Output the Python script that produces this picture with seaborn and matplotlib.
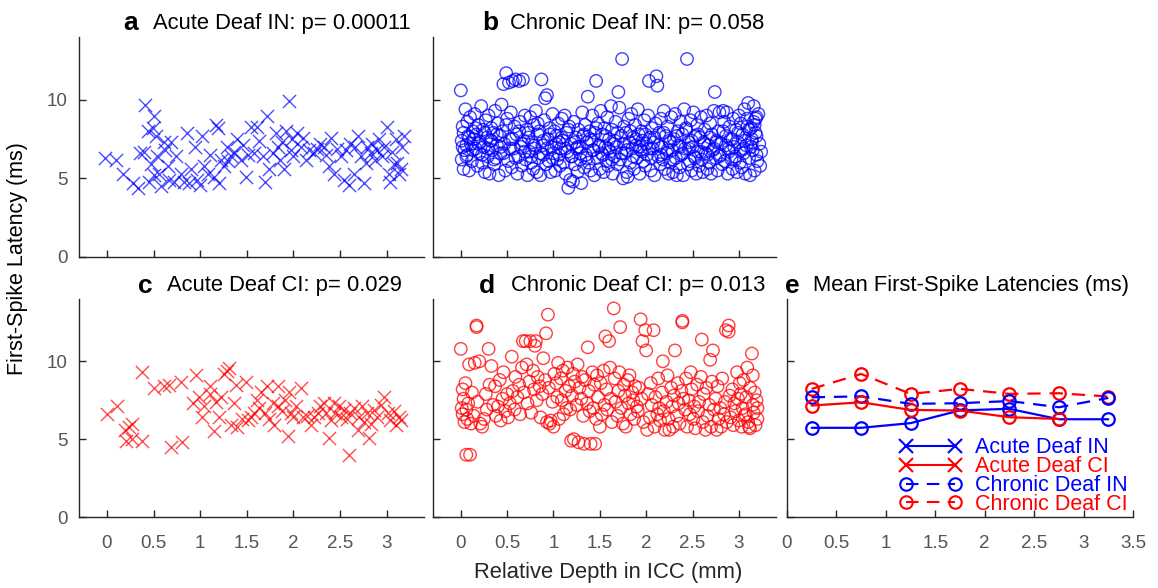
import numpy as np
import seaborn as sns
import matplotlib.pyplot as plt
from matplotlib.lines import Line2D

sns.set_style("ticks")
plt.rcParams['font.family'] = ['Liberation Sans', 'DejaVu Sans']
plt.rcParams['xtick.direction'] = 'in'
plt.rcParams['ytick.direction'] = 'in'
plt.rcParams['xtick.major.pad'] = 13
plt.rcParams['ytick.major.pad'] = 8

# ---- panel a: acute deaf IN (blue x) ----
a_depth = [-0.02, 0.10, 0.17, 0.28, 0.33, 0.35, 0.40, 0.41, 0.44, 0.45,
           0.47, 0.49, 0.51, 0.53, 0.54, 0.56, 0.58, 0.61, 0.65, 0.67,
           0.69, 0.72, 0.74, 0.79, 0.83, 0.86, 0.88, 0.94, 0.97, 1.00,
           1.02, 1.04, 1.08, 1.11, 1.15, 1.17, 1.19, 1.20, 1.22, 1.26,
           1.29, 1.33, 1.36, 1.40, 1.44, 1.49, 1.51, 1.54, 1.58, 1.61,
           1.63, 1.67, 1.70, 1.72, 1.74, 1.78, 1.81, 1.83, 1.86, 1.90,
           1.92, 1.95, 1.97, 1.99, 2.00, 2.04, 2.08, 2.10, 2.13, 2.17,
           2.22, 2.28, 2.33, 2.38, 2.40, 2.44, 2.47, 2.51, 2.54, 2.56,
           2.60, 2.61, 2.65, 2.69, 2.72, 2.76, 2.78, 2.79, 2.83, 2.84,
           2.88, 2.92, 2.95, 2.97, 3.00, 3.02, 3.04, 3.06, 3.10, 3.11,
           3.13, 3.15, 3.17, 3.19, 0.50, 0.62, 0.90, 1.30, 1.46, 1.88,
           2.25, 2.35, 2.66, 2.90, 3.08]
a_lat = [6.3, 6.15, 5.3, 4.7, 4.4, 6.6, 6.7, 9.7, 8.0, 4.8,
         5.9, 8.2, 9.0, 7.7, 6.4, 5.3, 4.5, 7.3, 5.8, 4.9,
         7.3, 4.8, 6.4, 5.3, 4.8, 7.9, 4.7, 7.0, 4.9, 4.6,
         7.7, 5.8, 5.3, 6.5, 5.1, 8.4, 8.2, 4.7, 6.2, 5.8,
         7.0, 6.4, 6.7, 7.5, 6.2, 5.1, 6.5, 8.3, 6.6, 8.3,
         7.4, 6.4, 4.8, 9.0, 5.6, 6.6, 7.9, 7.0, 6.2, 5.6,
         8.0, 9.9, 6.8, 7.5, 6.4, 7.9, 7.0, 7.6, 6.2, 6.8,
         6.6, 7.2, 7.0, 5.8, 7.6, 5.3, 6.9, 6.4, 4.9, 6.8,
         4.6, 7.2, 5.3, 7.7, 6.4, 4.7, 6.0, 7.0, 6.6, 7.2,
         6.2, 7.5, 6.4, 7.0, 8.3, 5.3, 4.8, 6.7, 7.5, 6.0,
         5.3, 5.6, 7.0, 7.7, 5.2, 6.8, 5.6, 6.1, 7.1, 7.3,
         6.9, 6.5, 7.0, 6.8, 5.9]

# ---- panel b: chronic deaf IN (blue o) ----
b_depth = [0.00, 0.01, 0.01, 0.02, 0.03, 0.03, 0.04, 0.05, 0.06, 0.07,
           0.07, 0.08, 0.09, 0.10, 0.11, 0.12, 0.13, 0.14, 0.15, 0.16,
           0.17, 0.18, 0.19, 0.20, 0.21, 0.22, 0.23, 0.24, 0.25, 0.26,
           0.27, 0.28, 0.29, 0.30, 0.31, 0.32, 0.33, 0.34, 0.35, 0.36,
           0.37, 0.38, 0.39, 0.40, 0.41, 0.42, 0.43, 0.44, 0.45, 0.46,
           0.47, 0.48, 0.49, 0.50, 0.51, 0.52, 0.53, 0.54, 0.55, 0.56,
           0.57, 0.58, 0.59, 0.60, 0.61, 0.62, 0.63, 0.64, 0.65, 0.66,
           0.67, 0.68, 0.69, 0.70, 0.71, 0.72, 0.73, 0.74, 0.75, 0.76,
           0.77, 0.78, 0.79, 0.80, 0.81, 0.82, 0.83, 0.84, 0.85, 0.86,
           0.87, 0.88, 0.89, 0.90, 0.91, 0.92, 0.93, 0.94, 0.95, 0.96,
           0.97, 0.98, 0.99, 1.00, 1.01, 1.02, 1.03, 1.04, 1.05, 1.06,
           1.07, 1.08, 1.09, 1.10, 1.11, 1.12, 1.13, 1.14, 1.15, 1.16,
           1.17, 1.18, 1.19, 1.20, 1.21, 1.22, 1.23, 1.24, 1.25, 1.26,
           1.27, 1.28, 1.29, 1.30, 1.31, 1.32, 1.33, 1.34, 1.35, 1.36,
           1.37, 1.38, 1.39, 1.40, 1.41, 1.42, 1.43, 1.44, 1.45, 1.46,
           1.47, 1.48, 1.49, 1.50, 1.51, 1.52, 1.53, 1.54, 1.55, 1.56,
           1.57, 1.58, 1.59, 1.60, 1.61, 1.62, 1.63, 1.64, 1.65, 1.66,
           1.67, 1.68, 1.69, 1.70, 1.71, 1.72, 1.73, 1.74, 1.75, 1.76,
           1.77, 1.78, 1.79, 1.80, 1.81, 1.82, 1.83, 1.84, 1.85, 1.86,
           1.87, 1.88, 1.89, 1.90, 1.91, 1.92, 1.93, 1.94, 1.95, 1.96,
           1.97, 1.98, 1.99, 2.00, 2.01, 2.02, 2.03, 2.04, 2.05, 2.06,
           2.07, 2.08, 2.09, 2.10, 2.11, 2.12, 2.13, 2.14, 2.15, 2.16,
           2.17, 2.18, 2.19, 2.20, 2.21, 2.22, 2.23, 2.24, 2.25, 2.26,
           2.27, 2.28, 2.29, 2.30, 2.31, 2.32, 2.33, 2.34, 2.35, 2.36,
           2.37, 2.38, 2.39, 2.40, 2.41, 2.42, 2.43, 2.44, 2.45, 2.46,
           2.47, 2.48, 2.49, 2.50, 2.51, 2.52, 2.53, 2.54, 2.55, 2.56,
           2.57, 2.58, 2.59, 2.60, 2.61, 2.62, 2.63, 2.64, 2.65, 2.66,
           2.67, 2.68, 2.69, 2.70, 2.71, 2.72, 2.73, 2.74, 2.75, 2.76,
           2.77, 2.78, 2.79, 2.80, 2.81, 2.82, 2.83, 2.84, 2.85, 2.86,
           2.87, 2.88, 2.89, 2.90, 2.91, 2.92, 2.93, 2.94, 2.95, 2.96,
           2.97, 2.98, 2.99, 3.00, 3.01, 3.02, 3.03, 3.04, 3.05, 3.06,
           3.07, 3.08, 3.09, 3.10, 3.11, 3.12, 3.13, 3.14, 3.15, 3.16,
           3.17, 3.18, 3.19, 3.20, 3.21, 3.22, 3.23, 3.24, 3.17, 3.19,
           0.02, 0.06, 0.09, 0.13, 0.16, 0.19, 0.23, 0.26, 0.29, 0.33,
           0.36, 0.39, 0.43, 0.46, 0.49, 0.53, 0.56, 0.59, 0.63, 0.66,
           0.69, 0.73, 0.76, 0.79, 0.83, 0.86, 0.89, 0.93, 0.96, 0.99,
           1.03, 1.06, 1.09, 1.13, 1.16, 1.19, 1.23, 1.26, 1.29, 1.33,
           1.36, 1.39, 1.43, 1.46, 1.49, 1.53, 1.56, 1.59, 1.63, 1.66,
           1.69, 1.73, 1.76, 1.79, 1.83, 1.86, 1.89, 1.93, 1.96, 1.99,
           2.03, 2.06, 2.09, 2.13, 2.16, 2.19, 2.23, 2.26, 2.29, 2.33,
           2.36, 2.39, 2.43, 2.46, 2.49, 2.53, 2.56, 2.59, 2.63, 2.66,
           2.69, 2.73, 2.76, 2.79, 2.83, 2.86, 2.89, 2.93, 2.96, 2.99,
           3.03, 3.06, 3.09, 3.13, 3.16, 3.19, 3.05, 3.11, 3.14, 3.18]
b_lat = [10.6, 7.4, 6.2, 8.3, 5.6, 7.9, 6.8, 9.4, 7.1, 8.6,
         6.5, 7.7, 5.5, 8.9, 7.2, 6.1, 8.0, 7.5, 9.1, 6.9,
         7.8, 5.8, 8.4, 6.6, 7.3, 9.6, 6.0, 8.1, 7.0, 5.4,
         8.7, 7.6, 6.4, 9.0, 5.3, 7.4, 8.2, 6.8, 7.9, 5.9,
         9.3, 6.3, 7.1, 8.5, 5.2, 7.7, 6.6, 9.7, 8.0, 11.0,
         7.2, 5.5, 11.7, 8.8, 6.1, 11.1, 7.5, 9.2, 5.7, 11.2,
         6.9, 8.3, 11.3, 7.8, 5.3, 6.4, 11.2, 8.6, 7.0, 5.8,
         11.3, 7.4, 9.0, 6.2, 8.1, 5.2, 7.6, 6.7, 8.9, 6.0,
         7.3, 5.6, 8.4, 6.9, 9.3, 5.4, 7.8, 6.3, 8.0, 5.2,
         11.3, 7.1, 6.5, 8.7, 10.1, 5.9, 10.3, 7.5, 6.1, 8.2,
         5.4, 7.0, 9.1, 6.6, 8.0, 5.5, 7.7, 6.2, 8.5, 7.3,
         5.8, 6.9, 8.8, 7.4, 6.0, 9.0, 5.3, 7.9, 6.7, 4.4,
         8.3, 4.9, 7.2, 6.4, 4.8, 8.6, 5.9, 7.6, 6.9, 5.4,
         8.1, 7.0, 6.2, 4.7, 9.2, 7.7, 5.7, 8.4, 6.5, 7.3,
         10.2, 6.0, 8.0, 5.5, 7.4, 9.0, 6.8, 5.2, 7.9, 11.2,
         6.3, 8.5, 7.1, 5.6, 9.3, 6.6, 7.8, 5.4, 8.2, 7.0,
         6.1, 8.9, 5.8, 7.5, 6.7, 9.6, 8.1, 5.3, 7.2, 6.4,
         8.6, 7.0, 5.9, 10.5, 9.5, 6.2, 7.7, 12.6, 5.0, 8.3,
         6.6, 7.9, 5.4, 5.1, 8.8, 7.3, 6.0, 9.1, 6.9, 7.6,
         5.6, 8.4, 7.1, 6.3, 9.4, 7.8, 5.3, 6.8, 8.0, 7.4,
         6.1, 8.7, 5.8, 7.2, 6.5, 9.0, 11.2, 7.6, 5.5, 8.2,
         6.9, 7.3, 5.2, 8.5, 11.5, 10.9, 6.4, 7.9, 5.9, 8.8,
         7.0, 6.2, 9.3, 5.6, 7.7, 6.6, 8.3, 5.3, 7.4, 6.0,
         8.9, 6.8, 5.4, 7.5, 9.1, 6.3, 5.2, 8.0, 7.1, 5.7,
         8.6, 6.5, 7.8, 5.2, 9.4, 6.9, 8.2, 12.6, 5.9, 7.3,
         6.1, 8.7, 5.5, 7.0, 9.2, 6.4, 7.7, 5.3, 8.4, 6.7,
         5.8, 7.6, 8.9, 6.2, 5.4, 7.3, 8.1, 6.6, 9.0, 5.6,
         7.1, 6.0, 8.5, 5.3, 7.8, 6.8, 9.3, 10.5, 6.3, 7.4,
         5.5, 8.0, 9.2, 6.5, 7.2, 5.9, 9.3, 8.6, 6.1, 7.7,
         9.2, 5.3, 6.9, 8.3, 7.5, 6.2, 5.6, 8.8, 7.0, 6.4,
         8.1, 5.4, 7.3, 9.0, 6.0, 8.5, 5.7, 7.8, 6.6, 9.4,
         5.3, 7.1, 8.8, 9.8, 6.3, 5.2, 8.2, 7.5, 6.8, 9.6,
         5.5, 7.9, 8.9, 6.1, 9.1, 7.2, 5.8, 6.7, 8.4, 6.5,
         7.0, 6.4, 7.6, 6.8, 8.2, 7.2, 6.5, 7.9, 6.9, 7.4,
         6.2, 7.8, 7.0, 6.6, 8.4, 6.9, 7.5, 6.3, 8.0, 7.2,
         6.7, 7.9, 6.4, 7.1, 8.5, 6.6, 7.4, 6.9, 7.8, 6.3,
         7.2, 6.5, 7.6, 6.9, 8.1, 6.4, 7.3, 7.0, 6.6, 7.8,
         6.3, 7.5, 6.8, 8.2, 7.0, 6.5, 7.7, 6.9, 6.2, 7.4,
         7.9, 6.6, 7.2, 6.8, 8.0, 6.4, 7.5, 7.0, 6.7, 7.8,
         6.9, 6.3, 7.6, 7.1, 6.5, 7.9, 6.8, 7.3, 6.2, 7.7,
         7.0, 6.6, 8.1, 6.9, 7.4, 6.3, 7.8, 6.7, 7.2, 6.5,
         7.6, 6.9, 7.3, 6.4, 8.0, 7.1, 6.7, 7.5, 6.2, 7.9,
         6.8, 7.4, 8.3, 7.0, 8.6, 7.7, 6.9, 8.1, 7.3, 8.8]

# ---- panel c: acute deaf CI (red x) ----
c_depth = [0.00, 0.11, 0.19, 0.20, 0.24, 0.27, 0.27, 0.38, 0.38, 0.51,
           0.61, 0.67, 0.69, 0.79, 0.81, 0.95, 0.92, 0.99, 1.02, 1.04,
           1.10, 1.11, 1.15, 1.17, 1.20, 1.22, 1.26, 1.29, 1.31, 1.33,
           1.36, 1.38, 1.40, 1.45, 1.49, 1.51, 1.54, 1.58, 1.61, 1.63,
           1.65, 1.69, 1.72, 1.74, 1.78, 1.79, 1.83, 1.84, 1.88, 1.91,
           1.94, 1.95, 1.97, 2.00, 2.03, 2.08, 2.10, 2.15, 2.19, 2.22,
           2.26, 2.29, 2.33, 2.35, 2.38, 2.40, 2.44, 2.45, 2.49, 2.51,
           2.54, 2.58, 2.60, 2.61, 2.65, 2.69, 2.70, 2.74, 2.76, 2.79,
           2.81, 2.83, 2.86, 2.90, 2.94, 2.97, 3.01, 3.04, 3.08, 3.10,
           3.13, 3.15]
c_lat = [6.6, 7.1, 5.6, 4.9, 5.8, 6.0, 5.0, 4.9, 9.3, 8.3,
         8.4, 8.5, 4.5, 8.7, 4.8, 9.1, 7.3, 7.7, 6.4, 7.1,
         7.9, 8.4, 5.5, 7.4, 6.4, 7.7, 9.2, 9.4, 9.6, 5.9,
         7.3, 8.5, 5.8, 6.3, 8.7, 6.2, 6.4, 6.7, 7.5, 7.0,
         8.0, 6.7, 8.4, 6.3, 7.3, 5.9, 8.4, 7.1, 6.8, 7.5,
         5.2, 8.0, 6.7, 6.4, 7.1, 8.3, 6.4, 6.5, 5.9, 6.4,
         6.7, 7.1, 7.3, 6.7, 5.1, 6.2, 7.3, 6.7, 7.1, 6.4,
         6.9, 6.3, 4.0, 6.7, 7.0, 5.6, 6.4, 7.1, 6.1, 6.7,
         5.1, 6.0, 6.9, 6.4, 7.2, 7.7, 6.7, 6.2, 6.8, 5.9,
         6.4, 6.2]

# ---- panel d: chronic deaf CI (red o) ----
d_depth = [0.00, 0.01, 0.02, 0.02, 0.03, 0.04, 0.05, 0.06, 0.06, 0.07,
           0.08, 0.09, 0.10, 0.11, 0.12, 0.14, 0.15, 0.17, 0.17, 0.18,
           0.20, 0.21, 0.23, 0.25, 0.27, 0.28, 0.30, 0.31, 0.33, 0.35,
           0.37, 0.38, 0.40, 0.42, 0.43, 0.45, 0.46, 0.48, 0.50, 0.51,
           0.53, 0.55, 0.56, 0.58, 0.59, 0.61, 0.63, 0.64, 0.66, 0.67,
           0.68, 0.70, 0.71, 0.72, 0.74, 0.75, 0.76, 0.78, 0.79, 0.80,
           0.81, 0.82, 0.83, 0.85, 0.86, 0.88, 0.89, 0.91, 0.92, 0.93,
           0.94, 0.95, 0.96, 0.97, 0.99, 1.00, 1.01, 1.03, 1.04, 1.05,
           1.06, 1.08, 1.09, 1.10, 1.11, 1.13, 1.14, 1.15, 1.17, 1.18,
           1.19, 1.20, 1.21, 1.22, 1.23, 1.25, 1.26, 1.27, 1.28, 1.30,
           1.31, 1.32, 1.33, 1.34, 1.36, 1.37, 1.38, 1.39, 1.40, 1.42,
           1.43, 1.44, 1.45, 1.46, 1.47, 1.48, 1.50, 1.51, 1.52, 1.54,
           1.55, 1.56, 1.57, 1.58, 1.60, 1.61, 1.62, 1.63, 1.65, 1.66,
           1.67, 1.69, 1.70, 1.71, 1.72, 1.73, 1.75, 1.76, 1.77, 1.78,
           1.80, 1.81, 1.82, 1.83, 1.85, 1.86, 1.87, 1.88, 1.90, 1.91,
           1.92, 1.94, 1.95, 1.96, 1.97, 1.99, 2.00, 2.01, 2.02, 2.04,
           2.05, 2.06, 2.08, 2.09, 2.10, 2.12, 2.13, 2.14, 2.15, 2.17,
           2.18, 2.19, 2.20, 2.22, 2.23, 2.24, 2.25, 2.27, 2.28, 2.29,
           2.30, 2.31, 2.33, 2.34, 2.35, 2.36, 2.38, 2.39, 2.39, 2.40,
           2.42, 2.43, 2.44, 2.46, 2.47, 2.48, 2.49, 2.51, 2.52, 2.53,
           2.55, 2.56, 2.57, 2.59, 2.60, 2.61, 2.62, 2.64, 2.65, 2.66,
           2.68, 2.69, 2.70, 2.71, 2.72, 2.73, 2.75, 2.76, 2.77, 2.78,
           2.80, 2.81, 2.82, 2.84, 2.85, 2.86, 2.87, 2.89, 2.89, 2.90,
           2.91, 2.93, 2.94, 2.95, 2.96, 2.98, 2.99, 3.00, 3.01, 3.03,
           3.04, 3.05, 3.06, 3.08, 3.09, 3.10, 3.11, 3.12, 3.14, 3.15,
           3.16, 3.17, 3.18, 3.19, 3.20, 3.20, 3.15, 3.12, 3.07, 3.02]
d_lat = [10.8, 7.0, 8.2, 6.6, 7.6, 6.1, 8.6, 4.0, 6.9, 6.3,
         7.3, 9.8, 4.0, 6.0, 8.0, 6.5, 9.9, 12.3, 12.2, 7.4,
         10.0, 6.0, 5.8, 6.3, 7.9, 6.9, 10.8, 8.5, 9.7, 7.2,
         8.4, 6.5, 7.1, 8.8, 6.2, 7.6, 9.3, 6.8, 7.9, 6.4,
         7.3, 10.3, 8.1, 6.9, 9.0, 7.7, 8.5, 6.6, 9.6, 11.3,
         8.0, 11.3, 9.8, 7.3, 8.7, 11.3, 6.7, 9.4, 8.2, 11.0,
         11.3, 7.5, 9.0, 8.4, 6.4, 7.9, 10.2, 8.8, 11.8, 6.1,
         13.0, 8.3, 6.0, 6.2, 7.4, 5.8, 9.2, 8.6, 7.7, 9.9,
         6.3, 8.9, 7.5, 9.4, 6.6, 8.1, 7.0, 9.6, 8.4, 6.9,
         4.9, 7.8, 9.2, 5.0, 8.7, 7.2, 9.8, 4.8, 8.3, 7.6,
         9.0, 6.5, 4.7, 8.8, 7.3, 10.9, 8.1, 6.8, 4.7, 9.3,
         7.0, 8.5, 4.7, 6.3, 9.1, 7.7, 5.8, 8.6, 6.6, 9.4,
         7.2, 11.6, 8.2, 6.9, 11.3, 9.6, 7.6, 6.1, 13.4, 8.9,
         7.4, 6.5, 8.1, 9.3, 12.2, 7.0, 6.0, 8.5, 7.8, 5.8,
         8.8, 7.3, 9.1, 6.6, 8.0, 7.5, 6.3, 8.4, 7.1, 6.8,
         8.3, 12.7, 7.6, 11.3, 6.1, 12.0, 10.7, 5.6, 7.9, 6.4,
         8.6, 7.2, 12.0, 5.8, 7.7, 6.6, 8.9, 7.0, 6.2, 8.0,
         10.0, 6.8, 5.6, 7.4, 9.1, 6.3, 5.6, 8.3, 7.1, 5.8,
         7.8, 10.7, 6.5, 8.6, 7.3, 6.0, 8.1, 12.6, 12.5, 7.6,
         6.9, 8.9, 5.8, 7.5, 6.6, 9.3, 8.2, 6.3, 7.1, 5.7,
         8.5, 6.8, 7.4, 9.0, 11.4, 6.1, 7.9, 5.6, 8.3, 6.5,
         7.2, 10.1, 5.8, 8.7, 10.7, 6.9, 7.6, 5.6, 8.4, 6.3,
         7.0, 5.8, 8.9, 6.6, 7.4, 12.0, 6.1, 12.3, 11.9, 7.8,
         6.4, 8.2, 5.9, 7.3, 6.8, 9.3, 7.6, 6.2, 8.6, 5.8,
         7.0, 8.8, 6.5, 7.7, 9.6, 6.1, 5.8, 8.3, 10.5, 7.2,
         6.7, 8.0, 5.9, 7.5, 6.3, 7.0, 9.1, 5.7, 6.6, 7.9]

# ---- panel e: binned means ----
bin_depth = [0.25, 0.75, 1.25, 1.75, 2.25, 2.75, 3.25]
mean_acute_in = [5.73, 5.73, 6.03, 6.85, 6.95, 6.28, 6.28]
mean_acute_ci = [7.16, 7.37, 6.88, 6.84, 6.41, 6.30, np.nan]
mean_chronic_in = [7.69, 7.75, 7.27, 7.31, 7.45, 7.05, 7.65]
mean_chronic_ci = [8.23, 9.19, 7.91, 8.23, 7.91, 7.95, 7.74]

titles = {
    'a': 'Acute Deaf IN: p= 0.00011',
    'b': 'Chronic Deaf IN: p= 0.058',
    'c': 'Acute Deaf CI: p= 0.029',
    'd': 'Chronic Deaf CI: p= 0.013',
    'e': 'Mean First-Spike Latencies (ms)',
}

BLUE = (0, 0, 1)
RED = (1, 0, 0)
AX_COL = '#262626'
TICK_COL = '#555555'

fig = plt.figure(figsize=(11.58, 5.88), dpi=100)
ax_a = fig.add_axes([0.0682, 0.563, 0.2979, 0.3741])
ax_b = fig.add_axes([0.3739, 0.563, 0.2962, 0.3741])
ax_c = fig.add_axes([0.0682, 0.1207, 0.2979, 0.3707])
ax_d = fig.add_axes([0.3739, 0.1207, 0.2962, 0.3707])
ax_e = fig.add_axes([0.6796, 0.1207, 0.2988, 0.3707])

sns.scatterplot(x=a_depth, y=a_lat, ax=ax_a, marker='x', s=90,
                color=BLUE, alpha=0.7, linewidth=1.0)
sns.scatterplot(x=b_depth, y=b_lat, ax=ax_b, marker='o', s=80,
                color=BLUE, facecolors='none', edgecolor=BLUE,
                alpha=0.75, linewidth=1.0)
sns.scatterplot(x=c_depth, y=c_lat, ax=ax_c, marker='x', s=90,
                color=RED, alpha=0.7, linewidth=1.0)
sns.scatterplot(x=d_depth, y=d_lat, ax=ax_d, marker='o', s=80,
                color=RED, facecolors='none', edgecolor=RED,
                alpha=0.75, linewidth=1.0)

dash = (0, (6, 4))
line_kw = dict(marker='o', markersize=9, markerfacecolor='none',
               markeredgewidth=1.6, linewidth=1.6, ax=ax_e)
sns.lineplot(x=bin_depth, y=mean_chronic_ci, color=RED, linestyle=dash,
             markeredgecolor=RED, **line_kw)
sns.lineplot(x=bin_depth, y=mean_chronic_in, color=BLUE, linestyle=dash,
             markeredgecolor=BLUE, **line_kw)
sns.lineplot(x=bin_depth, y=mean_acute_in, color=BLUE, linestyle='-',
             markeredgecolor=BLUE, **line_kw)
sns.lineplot(x=bin_depth, y=mean_acute_ci, color=RED, linestyle='-',
             markeredgecolor=RED, **line_kw)

handles = [
    Line2D([], [], color=BLUE, linestyle='-', marker='x', markersize=10, markeredgewidth=1.5, linewidth=1.5),
    Line2D([], [], color=RED, linestyle='-', marker='x', markersize=10, markeredgewidth=1.5, linewidth=1.5),
    Line2D([], [], color=BLUE, linestyle=dash, marker='o', markersize=9, markerfacecolor='none', markeredgewidth=1.5, linewidth=1.5),
    Line2D([], [], color=RED, linestyle=dash, marker='o', markersize=9, markerfacecolor='none', markeredgewidth=1.5, linewidth=1.5),
]
labels = ['Acute Deaf IN', 'Acute Deaf CI', 'Chronic Deaf IN', 'Chronic Deaf CI']
ax_e.legend(handles, labels, loc='upper left', bbox_to_anchor=(0.3, 0.405),
            borderaxespad=0, frameon=False, numpoints=2, handlelength=2.9,
            handletextpad=0.6, labelspacing=-0.1, fontsize=15.5,
            labelcolor='linecolor')

letters = {'a': ax_a, 'b': ax_b, 'c': ax_c, 'd': ax_d, 'e': ax_e}
letter_pos = {'a': (0.128, 0.214), 'b': (0.143, 0.224), 'c': (0.171, 0.255),
              'd': (0.134, 0.227), 'e': (-0.006, 0.075)}

for key, ax in letters.items():
    ax.set_ylim(0, 14)
    ax.set_yticks([0, 5, 10])
    if key == 'e':
        ax.set_xlim(0, 3.5)
        ax.set_xticks([0, 0.5, 1, 1.5, 2, 2.5, 3, 3.5])
        ax.set_xticklabels(['0', '0.5', '1', '1.5', '2', '2.5', '3', '3.5'])
    else:
        ax.set_xlim(-0.3, 3.4)
        ax.set_xticks([0, 0.5, 1, 1.5, 2, 2.5, 3])
        ax.set_xticklabels(['0', '0.5', '1', '1.5', '2', '2.5', '3'])
    if key in ('a', 'b'):
        ax.tick_params(axis='x', labelbottom=False)
    if key in ('b', 'd', 'e'):
        ax.tick_params(axis='y', labelleft=False)
    ax.tick_params(length=5, width=1, color=AX_COL, labelsize=13.5,
                   labelcolor=TICK_COL)
    sns.despine(ax=ax)
    for sp in ('left', 'bottom'):
        ax.spines[sp].set_color(AX_COL)
        ax.spines[sp].set_linewidth(1.0)
    ax.set_xlabel('')
    ax.set_ylabel('')
    lx, tx = letter_pos[key]
    yy = 1.062
    ax.text(lx, yy, key, transform=ax.transAxes, fontsize=19,
            fontweight='bold', ha='left', va='center', color='black')
    ax.text(tx, yy, titles[key], transform=ax.transAxes, fontsize=15.8,
            ha='left', va='center', color='black')

fig.text(0.525, 0.027, 'Relative Depth in ICC (mm)', ha='center',
         va='center', fontsize=15.8, color=AX_COL)
fig.text(0.0155, 0.561, 'First-Spike Latency (ms)', ha='center',
         va='center', rotation=90, fontsize=15.5, color='black')

fig.savefig('out.png', dpi=100)
